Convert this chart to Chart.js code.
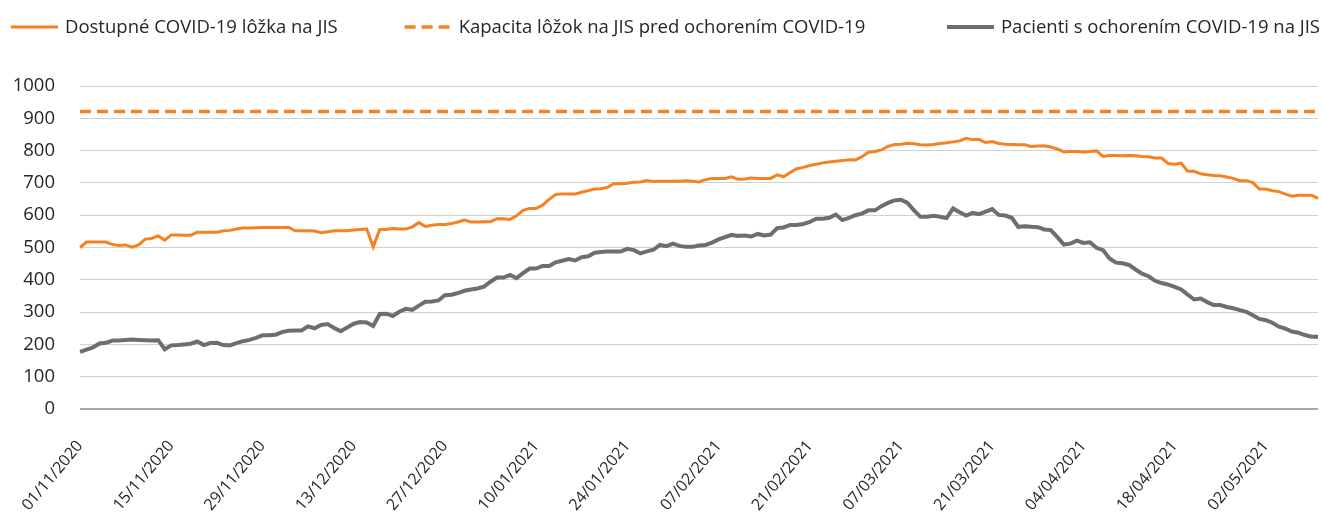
<!DOCTYPE html>
<html>
<head>
<meta charset="utf-8">
<script src="https://cdn.jsdelivr.net/npm/chart.js@4.4.1/dist/chart.umd.min.js"></script>
<style>
  html, body { margin: 0; padding: 0; background: #fff; }
</style>
</head>
<body>
<canvas id="icuChart" width="1324" height="513"></canvas>
<script>
// Daily series, 01/11/2020 .. 10/05/2021 (191 days)
const startDay = new Date(2020, 10, 1);
const dayCount = 191;
const labelEvery = 14;

const availableBeds = [
  500, 517, 517, 517, 517, 509, 506, 508, 501, 508, 526, 528, 536, 523, 539, 539, 538, 538, 547, 547,
  547, 547, 552, 553, 557, 560, 560, 561, 562, 562, 562, 562, 563, 552, 552, 552, 551, 546,
  549, 552, 552, 552, 554, 556, 557, 502, 556, 556, 559, 557, 557, 564, 577, 565, 569, 571, 571, 574,
  579, 585, 579, 579, 580, 580, 589, 589, 587, 598, 615, 621, 621, 631, 649, 664, 666, 666,
  666, 671, 676, 681, 682, 687, 698, 697, 699, 702, 703, 707, 704, 705, 705, 705, 705, 707, 705, 703,
  710, 714, 714, 714, 719, 711, 712, 715, 714, 714, 714, 725, 719, 732, 744, 748, 754, 758,
  762, 765, 767, 769, 772, 771, 781, 795, 797, 802, 813, 819, 820, 823, 821, 818, 817, 819, 822, 824,
  827, 830, 838, 834, 834, 825, 828, 822, 820, 819, 818, 818, 813, 814, 815, 811, 805, 796,
  797, 797, 796, 797, 799, 782, 785, 785, 784, 785, 784, 782, 781, 777, 777, 760, 758, 761, 736, 736,
  728, 725, 723, 722, 718, 714, 707, 707, 701, 681, 681, 676, 673, 665, 659, 662, 662, 662, 652
];

const patients = [
  177, 184, 191, 203, 205, 212, 212, 214, 215, 214, 213, 212, 213, 185, 197, 198, 200, 202, 209, 198,
  204, 205, 198, 197, 204, 210, 214, 220, 228, 228, 230, 238, 242, 243, 243, 256, 250, 260,
  263, 251, 241, 252, 264, 269, 268, 257, 294, 295, 288, 301, 310, 307, 320, 332, 333, 336, 352, 354,
  359, 366, 370, 373, 379, 394, 407, 407, 415, 405, 421, 435, 435, 443, 443, 454, 459, 464,
  460, 470, 473, 484, 486, 488, 488, 488, 496, 492, 482, 488, 493, 508, 504, 512, 505, 502, 502, 506,
  508, 515, 525, 532, 539, 536, 537, 534, 542, 537, 540, 560, 562, 570, 570, 573, 579, 589,
  589, 592, 602, 585, 592, 600, 605, 615, 615, 628, 638, 646, 648, 638, 615, 595, 595, 598, 595, 591,
  621, 609, 599, 607, 603, 611, 619, 601, 599, 592, 564, 566, 564, 563, 556, 554, 532, 509,
  512, 521, 514, 516, 499, 492, 466, 453, 451, 446, 432, 419, 411, 397, 390, 385, 378, 370, 354, 339,
  342, 331, 322, 322, 316, 312, 306, 301, 290, 279, 275, 267, 255, 249, 240, 236, 229, 224, 224
];

const capacityBeforeCovid = 921;

const yTicks = { min: 0, max: 1000, step: 100 };

function pad2(n) {
  return n < 10 ? "0" + n : "" + n;
}

const dates = [];
for (let i = 0; i < dayCount; i++) {
  const d = new Date(startDay.getFullYear(), startDay.getMonth(), startDay.getDate() + i);
  dates.push(pad2(d.getDate()) + "/" + pad2(d.getMonth() + 1) + "/" + d.getFullYear());
}
const capacity = dates.map(() => capacityBeforeCovid);

const ORANGE = "#F58220";
const GREY = "#6D6E71";
const TEXT = "#262626";
const FONT = "'Open Sans', 'Noto Sans', sans-serif";

// one-row legend spread over the full width, like the Excel original
const legendRow = {
  id: "legendRow",
  afterDraw(chart, args, opts) {
    const ctx = chart.ctx;
    const items = chart.data.datasets;
    ctx.save();
    ctx.font = opts.fontSize + "px " + FONT;
    const widths = items.map(ds => opts.markerWidth + opts.textGap + ctx.measureText(ds.label).width);
    const total = widths.reduce((a, b) => a + b, 0);
    const spare = chart.width - opts.left - opts.right - total;
    let x = opts.left;
    items.forEach((ds, i) => {
      ctx.strokeStyle = ds.borderColor;
      ctx.lineWidth = ds.borderWidth;
      ctx.setLineDash(ds.borderDash || []);
      ctx.beginPath();
      ctx.moveTo(x, opts.y);
      ctx.lineTo(x + opts.markerWidth, opts.y);
      ctx.stroke();
      ctx.setLineDash([]);
      ctx.fillStyle = TEXT;
      ctx.textBaseline = "middle";
      ctx.textAlign = "left";
      ctx.fillText(ds.label, x + opts.markerWidth + opts.textGap, opts.y + 1);
      x += widths[i] + spare * (opts.gapShares[i] || 0);
    });
    ctx.restore();
  }
};

const ctx = document.getElementById("icuChart").getContext("2d");
new Chart(ctx, {
  type: "line",
  data: {
    labels: dates,
    datasets: [
      {
        label: "Dostupné COVID-19 lôžka na JIS",
        data: availableBeds,
        borderColor: ORANGE,
        backgroundColor: ORANGE,
        borderWidth: 3,
        pointRadius: 0,
        tension: 0
      },
      {
        label: "Kapacita lôžok na JIS pred ochorením COVID-19",
        data: capacity,
        borderColor: ORANGE,
        backgroundColor: ORANGE,
        borderWidth: 3.5,
        borderDash: [11, 6],
        pointRadius: 0
      },
      {
        label: "Pacienti s ochorením COVID-19 na JIS",
        data: patients,
        borderColor: GREY,
        backgroundColor: GREY,
        borderWidth: 4,
        pointRadius: 0,
        tension: 0
      }
    ]
  },
  options: {
    responsive: false,
    animation: false,
    devicePixelRatio: 1,
    layout: { padding: { top: 86, left: 10, right: 6, bottom: 0 } },
    plugins: {
      legend: { display: false },
      tooltip: { enabled: false },
      legendRow: {
        left: 11, right: 4, y: 27, markerWidth: 47, textGap: 7, fontSize: 18.5,
        gapShares: [0.45, 0.55]
      }
    },
    scales: {
      x: {
        grid: { display: false },
        border: { display: false },
        ticks: {
          autoSkip: false,
          minRotation: 50,
          maxRotation: 50,
          padding: 20,
          color: TEXT,
          font: { family: FONT, size: 16 },
          callback: function (value, index) {
            return index % labelEvery === 0 ? this.getLabelForValue(value) : "";
          }
        },
        afterFit(scale) {
          scale.height = 104;
          scale.paddingRight = 0;
        }
      },
      y: {
        min: yTicks.min,
        max: yTicks.max,
        border: { display: false },
        grid: {
          drawTicks: false,
          color: c => (c.tick && c.tick.value === 0 ? "#A6A6A6" : "#D0D0D0"),
          lineWidth: c => (c.tick && c.tick.value === 0 ? 2 : 1)
        },
        ticks: {
          stepSize: yTicks.step,
          padding: 25,
          color: TEXT,
          font: { family: FONT, size: 18.5 },
          callback: v => String(v)
        },
        afterFit(scale) {
          scale.width = 70;
        }
      }
    }
  },
  plugins: [legendRow]
});
</script>
</body>
</html>
